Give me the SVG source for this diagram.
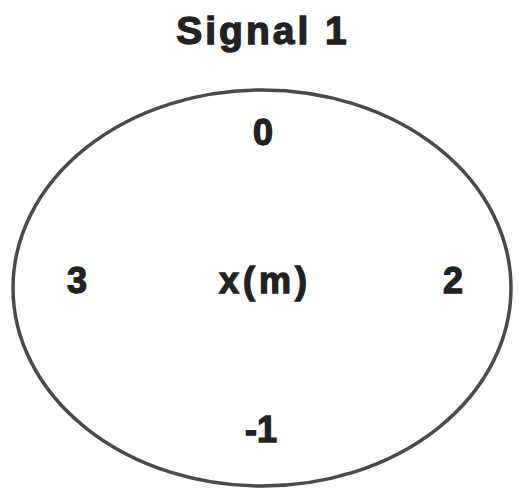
<svg xmlns="http://www.w3.org/2000/svg" width="520" height="494" viewBox="0 0 520 494">
<style>
.t{font-family:"Liberation Sans",Arial,sans-serif;font-weight:bold;fill:#222;stroke:#222;stroke-width:1.3;text-anchor:middle}
</style>
<rect width="520" height="494" fill="#fff"/>
<text class="t" x="263" y="44" font-size="39" letter-spacing="3">Signal 1</text>
<g id="node-signal">
<ellipse cx="262" cy="288" rx="249" ry="198" fill="none" stroke="#4a4a4a" stroke-width="3.5"/>
<text class="t" x="263" y="145" font-size="36">0</text>
<text class="t" x="77" y="293" font-size="36">3</text>
<text class="t" x="265" y="293" font-size="36" letter-spacing="4">x(m)</text>
<text class="t" x="453" y="293" font-size="36">2</text>
<text class="t" x="261" y="442" font-size="36">-1</text>
</g>
<g id="connectors"/>
</svg>
